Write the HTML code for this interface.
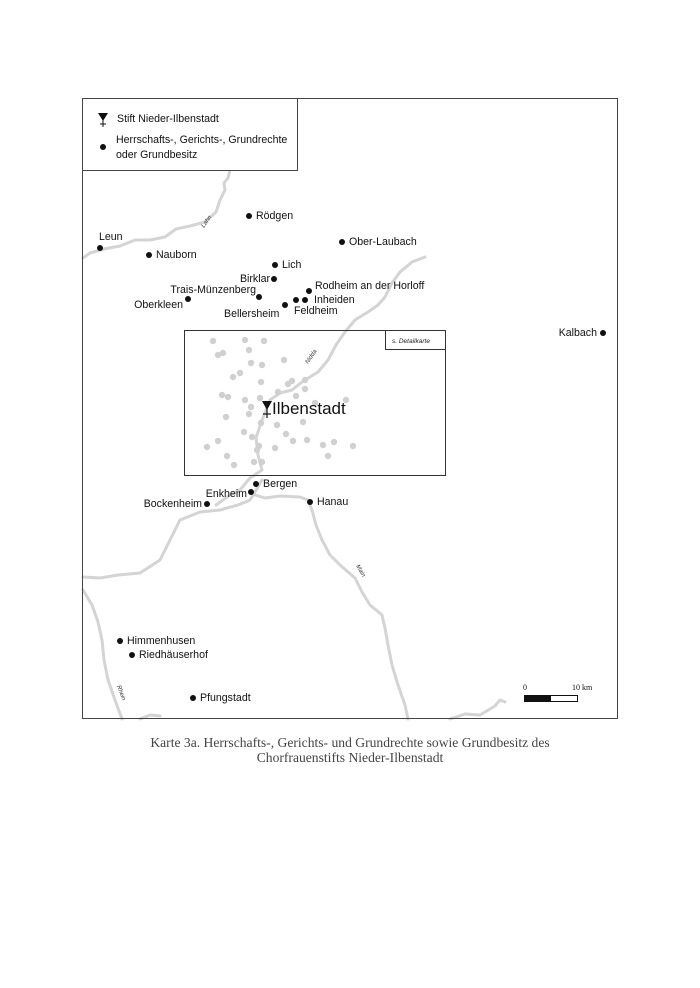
<!DOCTYPE html>
<html><head><meta charset="utf-8"><style>
html,body{margin:0;padding:0;background:#fff;}
svg{display:block;}
.t{font-family:"Liberation Sans",sans-serif;font-size:10.6px;fill:#111;}
.e{text-anchor:end;}
.r{fill:none;stroke:#d4d4d4;stroke-width:3;stroke-linejoin:round;stroke-linecap:round;}
.g{fill:#d0d0d0;}
.rl{font-family:"Liberation Sans",sans-serif;font-size:6px;font-style:italic;fill:#333;}
</style></head><body>
<svg width="700" height="988" viewBox="0 0 700 988" xmlns="http://www.w3.org/2000/svg">
<rect x="0" y="0" width="700" height="988" fill="#fff"/>
<path class="r" d="M230,170 L228,178 L224,183 L225,190 L220,200 L216,212 L205,222 L190,226 L176,229 L165,237 L150,240 L135,240 L120,246 L104,249 L90,253 L83,258"/>
<path class="r" d="M425,257 L412,262 L400,272 L392,283 L385,297 L378,305 L368,312 L355,320 L345,332 L336,345 L328,360 L318,372 L302,382 L292,390 L280,393 L270,400 L262,420 L256,438 L258,455 L262,470 L250,478 L240,490 L230,495 L216,505"/>
<path class="r" d="M262,480 L255,492 L250,500 L238,505 L220,510 L200,512 L180,520 L170,540 L160,560 L140,573 L118,575 L100,578 L83,577"/>
<path class="r" d="M255,495 L265,498 L280,496 L300,497 L308,500 L312,510 L316,525 L322,540 L330,555 L340,565 L355,578 L362,592 L370,605 L382,615 L385,628 L388,645 L392,665 L398,685 L405,705 L408,719"/>
<path class="r" d="M83,590 L92,605 L98,622 L102,640 L104,660 L108,680 L115,700 L122,719"/>
<path class="r" d="M140,719 L150,715 L160,716"/>
<path class="r" d="M450,719 L465,714 L480,715 L495,706 L500,700 L505,702"/>
<text class="rl" transform="translate(204,228) rotate(-55)">Lahn</text>
<text class="rl" transform="translate(308,364) rotate(-55)">Nidda</text>
<text class="rl" transform="translate(356,566) rotate(60)">Main</text>
<text class="rl" transform="translate(117,686) rotate(70)">Rhein</text>
<rect x="82.5" y="98.5" width="535" height="620" fill="none" stroke="#444" stroke-width="1"/>
<rect x="82.5" y="98.5" width="215" height="72" fill="#fff" stroke="#444" stroke-width="1"/>
<path d="M98,113 L108,113 L103,121 Z" fill="#111"/><line x1="103" y1="120" x2="103" y2="127" stroke="#111"/><line x1="100" y1="124" x2="106" y2="124" stroke="#111"/>
<text class="t" x="117" y="122">Stift Nieder-Ilbenstadt</text>
<circle cx="103" cy="147" r="3" fill="#111"/>
<text class="t" x="116" y="143">Herrschafts-, Gerichts-, Grundrechte</text>
<text class="t" x="116" y="158">oder Grundbesitz</text>
<rect x="184.5" y="330.5" width="261" height="145" fill="none" stroke="#333" stroke-width="1"/>
<rect x="385.5" y="330.5" width="60" height="19" fill="#fff" stroke="#333" stroke-width="1"/>
<text x="392" y="343" font-family="Liberation Sans,sans-serif" font-size="6.5" font-style="italic" fill="#222">s. Detailkarte</text>
<g class="g">
<circle cx="213" cy="341" r="3.2"/><circle cx="245" cy="340" r="3.2"/><circle cx="264" cy="341" r="3.2"/>
<circle cx="218" cy="355" r="3.2"/><circle cx="223" cy="353" r="3.2"/><circle cx="249" cy="350" r="3.2"/><circle cx="284" cy="360" r="3.2"/>
<circle cx="251" cy="363" r="3.2"/><circle cx="262" cy="365" r="3.2"/><circle cx="233" cy="377" r="3.2"/><circle cx="240" cy="373" r="3.2"/>
<circle cx="261" cy="382" r="3.2"/><circle cx="288" cy="384" r="3.2"/><circle cx="292" cy="381" r="3.2"/><circle cx="305" cy="380" r="3.2"/>
<circle cx="222" cy="395" r="3.2"/><circle cx="228" cy="397" r="3.2"/><circle cx="245" cy="400" r="3.2"/><circle cx="260" cy="398" r="3.2"/><circle cx="278" cy="392" r="3.2"/><circle cx="296" cy="396" r="3.2"/><circle cx="305" cy="389" r="3.2"/>
<circle cx="251" cy="407" r="3.2"/><circle cx="315" cy="403" r="3.2"/><circle cx="346" cy="400" r="3.2"/>
<circle cx="226" cy="417" r="3.2"/><circle cx="249" cy="414" r="3.2"/><circle cx="261" cy="423" r="3.2"/><circle cx="277" cy="425" r="3.2"/><circle cx="303" cy="422" r="3.2"/>
<circle cx="244" cy="432" r="3.2"/><circle cx="252" cy="437" r="3.2"/><circle cx="286" cy="434" r="3.2"/><circle cx="293" cy="441" r="3.2"/><circle cx="307" cy="440" r="3.2"/>
<circle cx="207" cy="447" r="3.2"/><circle cx="218" cy="441" r="3.2"/><circle cx="259" cy="446" r="3.2"/><circle cx="275" cy="448" r="3.2"/><circle cx="323" cy="445" r="3.2"/><circle cx="334" cy="442" r="3.2"/><circle cx="353" cy="446" r="3.2"/>
<circle cx="227" cy="456" r="3.2"/><circle cx="234" cy="465" r="3.2"/><circle cx="254" cy="462" r="3.2"/><circle cx="262" cy="462" r="3.2"/><circle cx="328" cy="456" r="3.2"/><circle cx="257" cy="450" r="3.2"/>
</g>
<path d="M262,401 L272,401 L267,410 Z" fill="#111"/><line x1="267" y1="409" x2="267" y2="418" stroke="#111" stroke-width="1.2"/><line x1="263" y1="414" x2="271" y2="414" stroke="#111" stroke-width="1.2"/>
<text x="272" y="414" font-family="Liberation Sans,sans-serif" font-size="17" fill="#111">Ilbenstadt</text>
<g fill="#111">
<circle cx="249" cy="216" r="3"/><circle cx="100" cy="248" r="3"/><circle cx="149" cy="255" r="3"/><circle cx="342" cy="242" r="3"/>
<circle cx="275" cy="265" r="3"/><circle cx="274" cy="279" r="3"/><circle cx="309" cy="291" r="3"/><circle cx="259" cy="297" r="3"/>
<circle cx="188" cy="299" r="3"/><circle cx="296" cy="300" r="3"/><circle cx="305" cy="300" r="3"/><circle cx="285" cy="305" r="3"/>
<circle cx="603" cy="333" r="3"/><circle cx="256" cy="484" r="3"/><circle cx="251" cy="492" r="3"/><circle cx="207" cy="504" r="3"/>
<circle cx="310" cy="502" r="3"/><circle cx="120" cy="641" r="3"/><circle cx="132" cy="655" r="3"/><circle cx="193" cy="698" r="3"/>
</g>
<text class="t" x="256" y="219">Rödgen</text>
<text class="t" x="99" y="240">Leun</text>
<text class="t" x="156" y="258">Nauborn</text>
<text class="t" x="349" y="245">Ober-Laubach</text>
<text class="t" x="282" y="268">Lich</text>
<text class="t e" x="270" y="282">Birklar</text>
<text class="t" x="315" y="289">Rodheim an der Horloff</text>
<text class="t e" x="256" y="293">Trais-Münzenberg</text>
<text class="t" x="314" y="303">Inheiden</text>
<text class="t e" x="183" y="308">Oberkleen</text>
<text class="t" x="224" y="317">Bellersheim</text>
<text class="t" x="294" y="314">Feldheim</text>
<text class="t e" x="597" y="336">Kalbach</text>
<text class="t" x="263" y="487">Bergen</text>
<text class="t e" x="247" y="497">Enkheim</text>
<text class="t e" x="202" y="507">Bockenheim</text>
<text class="t" x="317" y="505">Hanau</text>
<text class="t" x="127" y="644">Himmenhusen</text>
<text class="t" x="139" y="658">Riedhäuserhof</text>
<text class="t" x="200" y="701">Pfungstadt</text>
<text x="523" y="690" font-family="Liberation Serif,serif" font-size="8" fill="#111">0</text>
<text x="572" y="690" font-family="Liberation Serif,serif" font-size="8" fill="#111">10 km</text>
<rect x="524" y="695" width="26" height="7" fill="#111"/>
<rect x="550.5" y="695.5" width="27" height="6" fill="#fff" stroke="#111"/>
<text x="350" y="747" text-anchor="middle" font-family="Liberation Serif,serif" font-size="13.6" fill="#444">Karte 3a. Herrschafts-, Gerichts- und Grundrechte sowie Grundbesitz des</text>
<text x="350" y="762" text-anchor="middle" font-family="Liberation Serif,serif" font-size="13.6" fill="#444">Chorfrauenstifts Nieder-Ilbenstadt</text>
</svg>
</body></html>
